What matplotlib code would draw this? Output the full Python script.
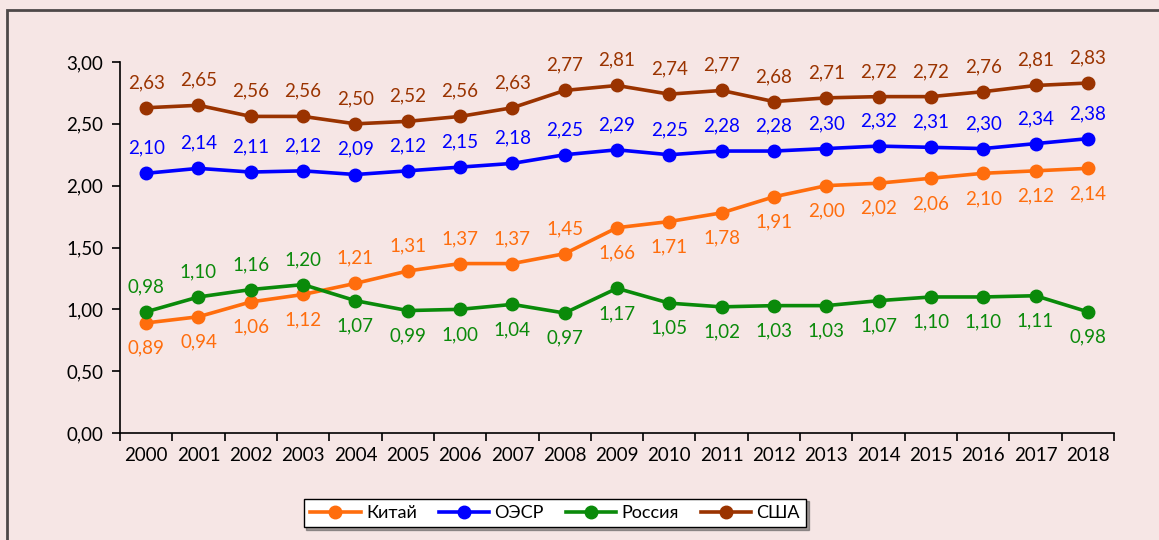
import matplotlib
matplotlib.use("Agg")
import matplotlib.pyplot as plt
from matplotlib.patches import Rectangle

plt.rcParams["font.family"] = ["Lato", "DejaVu Sans"]

years = list(range(2000, 2019))
china = [0.89, 0.94, 1.06, 1.12, 1.21, 1.31, 1.37, 1.37, 1.45, 1.66,
         1.71, 1.78, 1.91, 2.00, 2.02, 2.06, 2.10, 2.12, 2.14]
oecd = [2.10, 2.14, 2.11, 2.12, 2.09, 2.12, 2.15, 2.18, 2.25, 2.29,
        2.25, 2.28, 2.28, 2.30, 2.32, 2.31, 2.30, 2.34, 2.38]
russia = [0.98, 1.10, 1.16, 1.20, 1.07, 0.99, 1.00, 1.04, 0.97, 1.17,
          1.05, 1.02, 1.03, 1.03, 1.07, 1.10, 1.10, 1.11, 0.98]
usa = [2.63, 2.65, 2.56, 2.56, 2.50, 2.52, 2.56, 2.63, 2.77, 2.81,
       2.74, 2.77, 2.68, 2.71, 2.72, 2.72, 2.76, 2.81, 2.83]

# label side per point: 1 above, -1 below
china_side = [-1, -1, -1, -1, 1, 1, 1, 1, 1, -1, -1, -1, -1, -1, -1, -1, -1, -1, -1]
russia_side = [1, 1, 1, 1, -1, -1, -1, -1, -1, -1, -1, -1, -1, -1, -1, -1, -1, -1, -1]

series = [
    ("Китай", china, "#FF6D0D", china_side),
    ("ОЭСР", oecd, "#0000FF", [1] * 19),
    ("Россия", russia, "#0A8A0A", russia_side),
    ("США", usa, "#9A3300", [1] * 19),
]

bg = "#F6E6E5"
fig = plt.figure(figsize=(11.59, 5.40), dpi=100, facecolor=bg)
ax = fig.add_axes([120 / 1159, 1 - 433 / 540, (1114 - 120) / 1159, (433 - 62) / 540])
ax.set_facecolor(bg)

# outer frame (cut off at right and bottom like the source)
fig.add_artist(Rectangle((7 / 1159, -0.05), 1.2, 1 - 10 / 540 + 0.05,
                         transform=fig.transFigure, fill=False,
                         edgecolor="#4D4848", linewidth=2))

x = list(range(len(years)))
for name, vals, col, side in series:
    ax.plot(x, vals, color=col, lw=2.6, marker="o", ms=9, label=name,
            clip_on=False, zorder=3)
    for xi, v, s in zip(x, vals, side):
        ax.annotate(f"{v:.2f}".replace(".", ","), (xi, v),
                    xytext=(0, 12 * s), textcoords="offset points",
                    ha="center", va="bottom" if s > 0 else "top",
                    color=col, fontsize=13.5, annotation_clip=False)

ax.set_xlim(-0.5, len(years) - 0.5)
ax.set_ylim(0, 3)
ax.set_yticks([0, 0.5, 1, 1.5, 2, 2.5, 3])
ax.set_yticklabels([f"{t:.2f}".replace(".", ",") for t in ax.get_yticks()])
ax.set_xticks(x)
ax.set_xticklabels([str(y) for y in years])
ax.set_xticks([i - 0.5 for i in range(len(years) + 1)], minor=True)
ax.tick_params(axis="x", which="major", length=0, pad=10, labelsize=13.5)
ax.tick_params(axis="x", which="minor", length=6, width=1.2, direction="out")
ax.tick_params(axis="y", length=6, width=1.2, labelsize=13.5, pad=6)
for sp in ["top", "right"]:
    ax.spines[sp].set_visible(False)
for sp in ["left", "bottom"]:
    ax.spines[sp].set_linewidth(1.2)

leg = fig.legend(loc="center", bbox_to_anchor=(555 / 1159, 1 - 513 / 540),
                 ncol=4, frameon=True, fancybox=False, shadow=True,
                 fontsize=13, handlelength=2.8, handletextpad=0.3,
                 columnspacing=1.2, borderpad=0.35)
leg.get_frame().set_edgecolor("black")
leg.get_frame().set_linewidth(1)
leg.get_frame().set_facecolor("white")

fig.savefig("out.png", dpi=100, facecolor=bg)
